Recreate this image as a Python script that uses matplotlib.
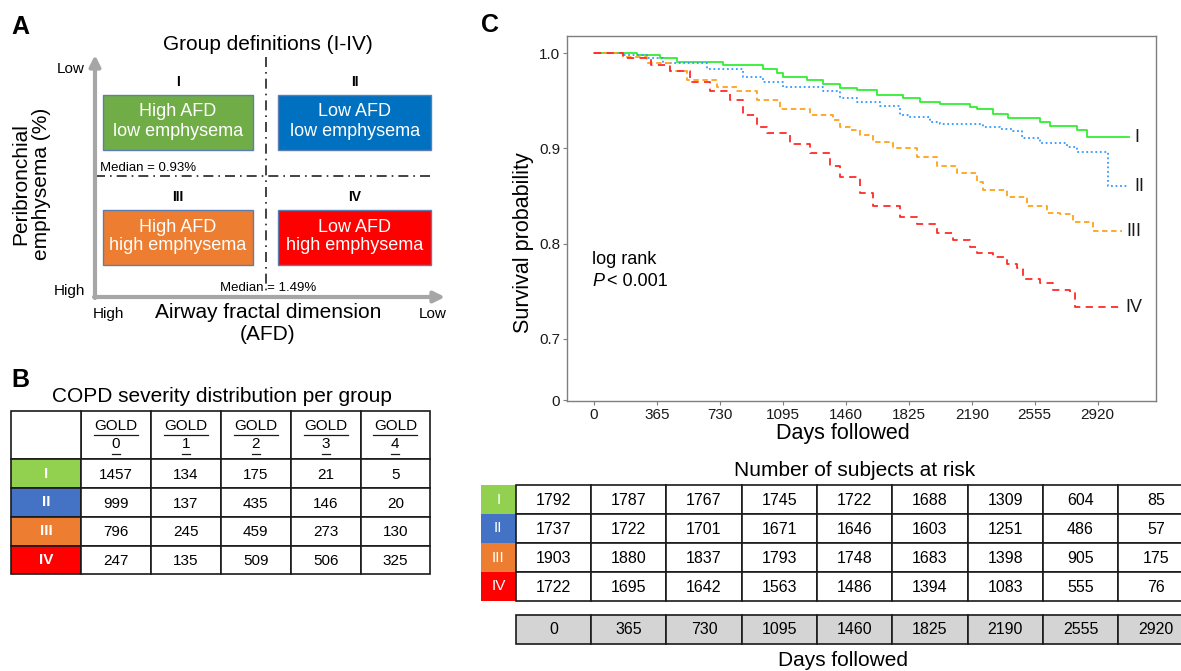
import numpy as np
import matplotlib.pyplot as plt
from matplotlib.patches import Rectangle

plt.rcParams['font.family'] = ['Liberation Sans', 'DejaVu Sans']

# ---------------- data ----------------
groups = ['I', 'II', 'III', 'IV']
box_colors = ['#70AD47', '#0070C0', '#ED7D31', '#FF0000']
cell_colors = ['#92D050', '#4472C4', '#ED7D31', '#FF0000']
curve_colors = ['#33EE33', '#3399FF', '#FFA31A', '#FF2A2A']
box_text = [('High AFD', 'low emphysema'), ('Low AFD', 'low emphysema'),
            ('High AFD', 'high emphysema'), ('Low AFD', 'high emphysema')]

gold_stages = ['0', '1', '2', '3', '4']
gold_counts = [[1457, 134, 175, 21, 5],
               [999, 137, 435, 146, 20],
               [796, 245, 459, 273, 130],
               [247, 135, 509, 506, 325]]

days_I = [0, 247, 383, 479, 750, 982, 1059, 1097, 1233, 1329, 1426, 1523, 1639,
          1792, 1890, 2006, 2180, 2218, 2315, 2402, 2586, 2643, 2798, 2856, 3103]
surv_I = [1.0, 0.998, 0.995, 0.991, 0.988, 0.983, 0.979, 0.975, 0.972, 0.968, 0.964,
          0.961, 0.956, 0.953, 0.949, 0.947, 0.944, 0.941, 0.936, 0.932, 0.928, 0.924,
          0.919, 0.912, 0.912]
days_II = [0, 170, 305, 402, 653, 866, 982, 1098, 1330, 1426, 1523, 1658, 1774, 1832,
           1948, 2006, 2257, 2354, 2431, 2479, 2586, 2740, 2798, 2978, 3103]
surv_II = [1.0, 0.998, 0.995, 0.990, 0.984, 0.975, 0.970, 0.965, 0.960, 0.953, 0.949,
           0.945, 0.935, 0.933, 0.928, 0.926, 0.923, 0.920, 0.918, 0.911, 0.906, 0.902,
           0.896, 0.860, 0.860]
days_III = [0, 170, 305, 441, 537, 711, 827, 943, 1078, 1252, 1387, 1426, 1484, 1542,
            1619, 1735, 1871, 1987, 2103, 2218, 2257, 2392, 2508, 2624, 2701, 2778,
            2894, 3059]
surv_III = [1.0, 0.996, 0.990, 0.981, 0.972, 0.965, 0.960, 0.951, 0.941, 0.935, 0.930,
            0.923, 0.919, 0.914, 0.907, 0.900, 0.891, 0.882, 0.874, 0.865, 0.856, 0.849,
            0.840, 0.832, 0.831, 0.823, 0.813, 0.813]
days_IV = [0, 170, 329, 441, 557, 672, 788, 866, 943, 1001, 1136, 1252, 1368, 1426,
           1542, 1619, 1774, 1871, 1987, 2083, 2180, 2218, 2315, 2393, 2451, 2489, 2586,
           2663, 2760, 2789, 3049]
surv_IV = [1.0, 0.995, 0.988, 0.981, 0.970, 0.960, 0.951, 0.935, 0.923, 0.916, 0.905,
           0.895, 0.882, 0.870, 0.853, 0.840, 0.828, 0.821, 0.811, 0.804, 0.796, 0.790,
           0.786, 0.779, 0.774, 0.763, 0.759, 0.751, 0.749, 0.733, 0.733]

risk_days = [0, 365, 730, 1095, 1460, 1825, 2190, 2555, 2920]
at_risk = [[1792, 1787, 1767, 1745, 1722, 1688, 1309, 604, 85],
           [1737, 1722, 1701, 1671, 1646, 1603, 1251, 486, 57],
           [1903, 1880, 1837, 1793, 1748, 1683, 1398, 905, 175],
           [1722, 1695, 1642, 1563, 1486, 1394, 1083, 555, 76]]

W, H = 1181, 671
fig = plt.figure(figsize=(W / 100, H / 100), dpi=100)

# overlay in pixel coordinates for the diagram and tables
ov = fig.add_axes([0, 0, 1, 1])
ov.set_xlim(0, W)
ov.set_ylim(H, 0)
ov.axis('off')

# ---------------- panel A ----------------
ov.text(20, 27, 'A', fontsize=18, fontweight='bold', ha='center', va='center')
ov.text(268, 45, 'Group definitions (I-IV)', fontsize=15, ha='center', va='center')

arrow = dict(arrowstyle='-|>', color='#A6A6A6', lw=3, mutation_scale=16,
             shrinkA=0, shrinkB=0)
ov.annotate('', xy=(95, 55), xytext=(95, 298), arrowprops=arrow)
ov.annotate('', xy=(445, 297), xytext=(94, 297), arrowprops=arrow)

ov.plot([95, 432], [176, 176], color='#222222', lw=1.2, ls=(0, (6, 3, 1, 3)))
ov.plot([266, 266], [57, 294], color='#222222', lw=1.2, ls=(0, (6, 3, 1, 3)))
ov.text(100, 168, 'Median = 0.93%', fontsize=9.5, va='center')
ov.text(220, 288, 'Median = 1.49%', fontsize=9.5, va='center')

box_x = [102.7, 278.3]
box_w = [150.6, 152.7]
box_y = [95, 210]
for i, g in enumerate(groups):
    c, r = i % 2, i // 2
    x0, y0, w = box_x[c], box_y[r], box_w[c]
    ov.add_patch(Rectangle((x0, y0), w, 55, facecolor=box_colors[i],
                           edgecolor='#5B7DB1', lw=1))
    ov.text(x0 + w / 2, y0 - 13, g, fontsize=10, fontweight='bold',
            ha='center', va='center')
    ov.text(x0 + w / 2, y0 + 17, box_text[i][0], fontsize=13, color='white',
            ha='center', va='center')
    ov.text(x0 + w / 2, y0 + 36, box_text[i][1], fontsize=13, color='white',
            ha='center', va='center')

ov.text(85, 69, 'Low', fontsize=11, ha='right', va='center')
ov.text(85, 291, 'High', fontsize=11, ha='right', va='center')
ov.text(108, 314, 'High', fontsize=11, ha='center', va='center')
ov.text(433, 314, 'Low', fontsize=11, ha='center', va='center')
ov.text(268, 313, 'Airway fractal dimension', fontsize=15, ha='center', va='center')
ov.text(268, 334, '(AFD)', fontsize=15, ha='center', va='center')
ov.text(31, 184, 'Peribronchial\nemphysema (%)', fontsize=15, rotation=90,
        ha='center', va='center', linespacing=1.12)

# ---------------- panel B ----------------
ov.text(20, 380, 'B', fontsize=18, fontweight='bold', ha='center', va='center')
ov.text(222, 397, 'COPD severity distribution per group', fontsize=15,
        ha='center', va='center')

col_edges = [11, 81, 151, 220.7, 290.7, 360.7, 430]
row_edges = [410.7, 459.3, 488.3, 516.7, 545.7, 574]
for j, st in enumerate(gold_stages):
    x0, x1 = col_edges[j + 1], col_edges[j + 2]
    cx = (x0 + x1) / 2
    ov.add_patch(Rectangle((x0, row_edges[0]), x1 - x0, row_edges[1] - row_edges[0],
                           facecolor='white', edgecolor='#1A1A1A', lw=1.2))
    ov.text(cx, 426, 'GOLD', fontsize=11, ha='center', va='center')
    ov.plot([cx - 22, cx + 22], [434.5, 434.5], color='#1A1A1A', lw=0.9)
    ov.text(cx, 444.5, st, fontsize=11, ha='center', va='center')
    ov.plot([cx - 4, cx + 4], [453.5, 453.5], color='#1A1A1A', lw=0.9)
ov.add_patch(Rectangle((col_edges[0], row_edges[0]), col_edges[1] - col_edges[0],
                       row_edges[1] - row_edges[0], facecolor='white',
                       edgecolor='#1A1A1A', lw=1.2))
for i, g in enumerate(groups):
    y0, y1 = row_edges[i + 1], row_edges[i + 2]
    ov.add_patch(Rectangle((col_edges[0], y0), col_edges[1] - col_edges[0], y1 - y0,
                           facecolor=cell_colors[i], edgecolor='#1A1A1A', lw=1.2))
    ov.text((col_edges[0] + col_edges[1]) / 2, (y0 + y1) / 2, g, fontsize=11,
            fontweight='bold', color='white', ha='center', va='center')
    for j, v in enumerate(gold_counts[i]):
        x0, x1 = col_edges[j + 1], col_edges[j + 2]
        ov.add_patch(Rectangle((x0, y0), x1 - x0, y1 - y0, facecolor='white',
                               edgecolor='#1A1A1A', lw=1.2))
        ov.text((x0 + x1) / 2, (y0 + y1) / 2 + 1, str(v), fontsize=11,
                ha='center', va='center')

# ---------------- panel C: survival curves ----------------
ov.text(490, 25, 'C', fontsize=18, fontweight='bold', ha='center', va='center')

ax = fig.add_axes([567.3 / W, 1 - 401 / H, (1156 - 567.3) / W, (401 - 36) / H])
ax.set_facecolor('none')
curves = [(days_I, surv_I), (days_II, surv_II), (days_III, surv_III), (days_IV, surv_IV)]
styles = ['-', (0, (1, 1.5)), (0, (3, 2)), (0, (4, 3))]
for k, (d, s) in enumerate(curves):
    ax.step(d, s, where='post', color=curve_colors[k], ls=styles[k], lw=1.3)
    ax.text(d[-1] + 30, s[-1], groups[k], fontsize=13, ha='left', va='center',
            color='#1A1A1A')

ax.set_xlim(-155, 3258)
ax.set_ylim(0.6345, 1.0182)
ax.set_xticks(risk_days)
ax.set_xticklabels([str(d) for d in risk_days])
ax.set_yticks([0.6355, 0.7, 0.8, 0.9, 1.0])
ax.set_yticklabels(['0', '0.7', '0.8', '0.9', '1.0'])
for sp in ax.spines.values():
    sp.set_color('#7F7F7F')
    sp.set_linewidth(1)
ax.tick_params(length=3, color='#7F7F7F', labelsize=11, pad=2, labelcolor='#1A1A1A')

ov.text(523, 243, 'Survival probability', fontsize=15.5, rotation=90,
        ha='center', va='center')
ov.text(843, 433, 'Days followed', fontsize=15.5, ha='center', va='center')
ov.text(592, 260, 'log rank', fontsize=13, va='center')
ov.text(592, 282, 'P', fontsize=13, va='center', style='italic')
ov.text(607, 282, '< 0.001', fontsize=13, va='center')

# ---------------- panel C: numbers at risk ----------------
ov.text(855, 471, 'Number of subjects at risk', fontsize=15, ha='center', va='center')
tx0, tw = 515.7, 75.3
trow = [485, 514, 543, 572, 601]
for i, g in enumerate(groups):
    y0, y1 = trow[i], trow[i + 1]
    ov.add_patch(Rectangle((481, y0), tx0 - 481, y1 - y0, facecolor=cell_colors[i],
                           edgecolor='none'))
    ov.text((481 + tx0) / 2, (y0 + y1) / 2, g, fontsize=11, color='white',
            ha='center', va='center')
    for j, v in enumerate(at_risk[i]):
        x0 = tx0 + j * tw
        ov.add_patch(Rectangle((x0, y0), tw, y1 - y0, facecolor='white',
                               edgecolor='#1A1A1A', lw=1.2))
        ov.text(x0 + tw / 2, (y0 + y1) / 2 + 1, str(v), fontsize=11.5,
                ha='center', va='center')
for j, d in enumerate(risk_days):
    x0 = tx0 + j * tw
    ov.add_patch(Rectangle((x0, 615), tw, 29, facecolor='#D4D4D4',
                           edgecolor='#1A1A1A', lw=1.2))
    ov.text(x0 + tw / 2, 630, str(d), fontsize=11.5, ha='center', va='center')
ov.text(843, 661, 'Days followed', fontsize=15, ha='center', va='center')

fig.savefig('out.png', dpi=100)
